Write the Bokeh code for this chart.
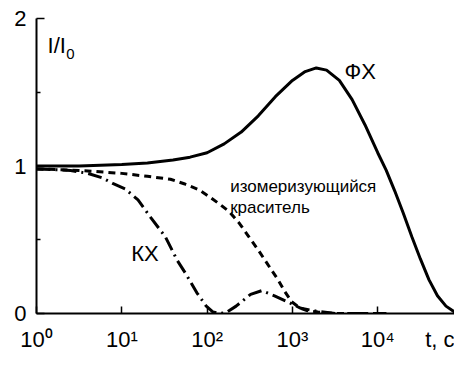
import numpy as np
from bokeh.plotting import figure
from bokeh.models import Range1d, FixedTicker, Label
from bokeh.embed import file_html
from bokeh.resources import INLINE

# ---- data (log10 of t, and I/I0) ----
fx_log = [0.0, 0.5, 1.0, 1.3, 1.6, 1.8, 2.0, 2.2, 2.4, 2.6, 2.8, 3.0, 3.15, 3.28, 3.4,
          3.55, 3.7, 3.85, 4.0, 4.1, 4.2, 4.3, 4.4, 4.5, 4.6, 4.7, 4.8, 4.9, 4.95]
fx_val = [1.00, 1.00, 1.01, 1.02, 1.04, 1.06, 1.09, 1.15, 1.23, 1.34, 1.47, 1.58, 1.64, 1.665, 1.65,
          1.58, 1.45, 1.28, 1.09, 0.97, 0.83, 0.68, 0.52, 0.37, 0.23, 0.12, 0.05, 0.01, 0.0]

dye_log = [0.0, 0.5, 1.0, 1.3, 1.57, 1.73, 1.9, 2.03, 2.15, 2.26, 2.38, 2.49, 2.6, 2.68,
           2.76, 2.83, 2.91, 2.99, 3.08, 3.17, 3.3, 3.5, 4.1]
dye_val = [0.98, 0.97, 0.95, 0.93, 0.91, 0.88, 0.84, 0.79, 0.74, 0.69, 0.61, 0.52, 0.43, 0.36,
           0.29, 0.23, 0.15, 0.08, 0.04, 0.02, 0.01, 0.0, 0.0]

kx_log = [0.0, 0.4, 0.6, 0.77, 0.9, 1.04, 1.19, 1.34, 1.51, 1.65, 1.76, 1.88, 1.99, 2.07,
          2.15, 2.22, 2.34, 2.51, 2.64, 2.79, 2.94, 3.1, 3.29, 3.5, 4.1]
kx_val = [0.98, 0.97, 0.95, 0.92, 0.88, 0.845, 0.77, 0.65, 0.52, 0.36, 0.26, 0.14, 0.05, 0.01,
          0.0, 0.005, 0.05, 0.13, 0.155, 0.12, 0.08, 0.035, 0.015, 0.0, 0.0]

x_ticks = [1, 10, 100, 1000, 10000]
x_tick_labels = ["10\u2070", "10\u00b9", "10\u00b2", "10\u00b3", "10\u2074"]
x_title = "t, c"
x_title_pos = 10 ** 4.75
y_ticks = [0, 1, 2]
y_minor = [0.5, 1.5]
x_end = 10 ** 4.9

FONT = "Liberation Sans"

p = figure(width=454, height=354, x_axis_type="log",
           x_range=Range1d(1, x_end), y_range=Range1d(0, 2),
           output_backend="svg", toolbar_location=None,
           min_border_left=36, min_border_right=0, min_border_top=18, min_border_bottom=38)
p.outline_line_color = None
p.grid.visible = False
p.background_fill_color = "white"
p.border_fill_color = "white"

p.line(10 ** np.array(fx_log), fx_val, line_color="black", line_width=3)
p.line(10 ** np.array(dye_log), dye_val, line_color="black", line_width=3, line_dash="7 5")
p.line(10 ** np.array(kx_log), kx_val, line_color="black", line_width=3, line_dash="14 5 2 5")

# axes: labels on (invisible) major ticks, visible tick marks as "minor" ticks at the decades
xa = p.xaxis[0]
xa.ticker = FixedTicker(ticks=x_ticks + [x_title_pos], minor_ticks=x_ticks)
labels = dict(zip(x_ticks, x_tick_labels))
labels[x_title_pos] = x_title
xa.major_label_overrides = labels
xa.major_label_text_font = FONT
xa.major_label_text_font_size = "22px"
xa.major_label_text_color = "black"
xa.major_label_standoff = 13
xa.major_tick_in = 0
xa.major_tick_out = 0
xa.minor_tick_in = 7
xa.minor_tick_out = 0
xa.minor_tick_line_width = 1.5
xa.minor_tick_line_color = "black"
xa.axis_line_width = 2
xa.axis_line_color = "black"

ya = p.yaxis[0]
ya.ticker = FixedTicker(ticks=y_ticks, minor_ticks=y_minor)
ya.major_label_text_font = FONT
ya.major_label_text_font_size = "22px"
ya.major_label_text_color = "black"
ya.major_label_standoff = 10
ya.major_tick_in = 8
ya.major_tick_out = 0
ya.minor_tick_in = 4
ya.minor_tick_out = 0
ya.axis_line_width = 2
ya.major_tick_line_width = 1.5
ya.minor_tick_line_width = 1.5
ya.axis_line_color = "black"

# y axis title I/I0
p.add_layout(Label(x=10 ** 0.13, y=1.815, text="I/I", text_align="left", text_baseline="alphabetic",
                   text_font=FONT, text_font_size="22px", text_color="black"))
p.add_layout(Label(x=10 ** 0.35, y=1.762, text="0", text_align="left", text_baseline="alphabetic",
                   text_font=FONT, text_font_size="15px", text_color="black"))

# curve labels
p.add_layout(Label(x=10 ** 3.61, y=1.64, text="ФХ", text_align="left", text_baseline="alphabetic",
                   text_font=FONT, text_font_size="22px", text_color="black"))
p.add_layout(Label(x=10 ** 1.11, y=0.41, text="КХ", text_align="left", text_baseline="alphabetic",
                   text_font=FONT, text_font_size="22px", text_color="black"))
p.add_layout(Label(x=10 ** 2.27, y=0.858, text="изомеризующийся", text_align="left",
                   text_baseline="alphabetic", text_font=FONT, text_font_size="17px",
                   text_color="black"))
p.add_layout(Label(x=10 ** 2.27, y=0.72, text="краситель", text_align="left",
                   text_baseline="alphabetic", text_font=FONT, text_font_size="17px",
                   text_color="black"))

open("out.html", "w").write(file_html(p, INLINE))
